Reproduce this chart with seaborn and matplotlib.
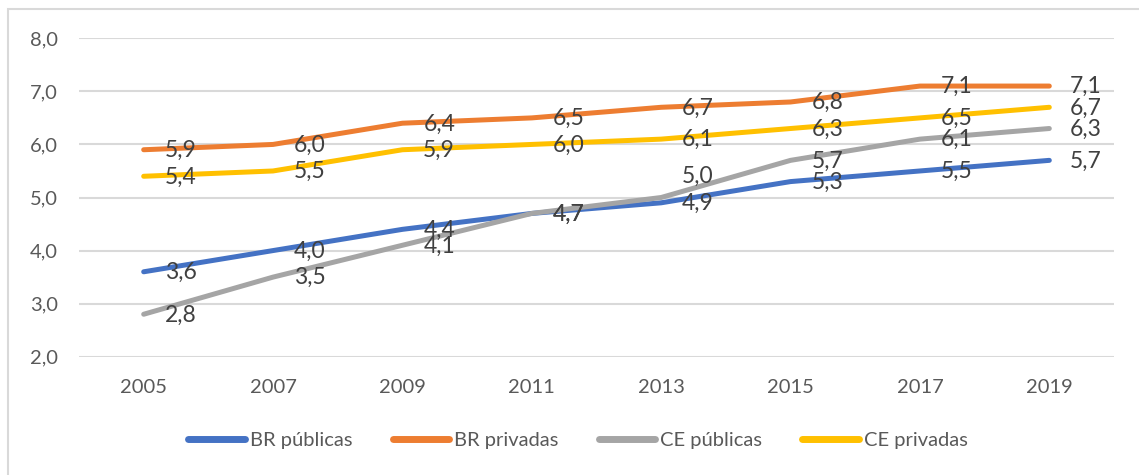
import matplotlib.pyplot as plt
import matplotlib.patches as mpatches
import pandas as pd
import seaborn as sns

# Data
years = ["2005", "2007", "2009", "2011", "2013", "2015", "2017", "2019"]
br_publicas = [3.6, 4.0, 4.4, 4.7, 4.9, 5.3, 5.5, 5.7]
br_privadas = [5.9, 6.0, 6.4, 6.5, 6.7, 6.8, 7.1, 7.1]
ce_publicas = [2.8, 3.5, 4.1, 4.7, 5.0, 5.7, 6.1, 6.3]
ce_privadas = [5.4, 5.5, 5.9, 6.0, 6.1, 6.3, 6.5, 6.7]
series_names = ["BR públicas", "BR privadas", "CE públicas", "CE privadas"]
colors = ["#4472C4", "#ED7D31", "#A5A5A5", "#FFC000"]

sns.set_theme(style="white")
plt.rcParams['font.family'] = ['Lato', 'DejaVu Sans']

rows = []
for name, vals in zip(series_names, [br_publicas, br_privadas, ce_publicas, ce_privadas]):
    for i, v in enumerate(vals):
        rows.append({"pos": i, "year": years[i], "value": v, "serie": name})
df = pd.DataFrame(rows)

fig = plt.figure(figsize=(11.39, 4.75), dpi=100)
ax = fig.add_axes([79 / 1139, 1 - 356.7 / 475, (1114 - 79) / 1139, (356.7 - 38.3) / 475])

sns.lineplot(data=df, x="pos", y="value", hue="serie", hue_order=series_names,
             palette=colors, linewidth=3.6, ax=ax, legend=False,
             solid_capstyle="round", zorder=3)

# labels moved by hand in the original (series, index) -> vertical shift in points
label_shift = {("CE públicas", 4): 16}

# data labels, to the right of each point
for name in series_names:
    sub = df[df["serie"] == name]
    for _, r in sub.iterrows():
        dy = label_shift.get((name, r["pos"]), 0) - 0.5
        ax.annotate(f"{r['value']:.1f}".replace(".", ","), (r["pos"], r["value"]),
                    xytext=(15, dy), textcoords="offset points",
                    ha="left", va="center", fontsize=16.5, color="#404040", zorder=4)

ax.set_xlim(-0.5, 7.5)
ax.set_ylim(2, 8)
ax.set_xticks(range(len(years)))
ax.set_xticklabels(years)
yt = [2, 3, 4, 5, 6, 7, 8]
ax.set_yticks(yt)
ax.set_yticklabels([f"{v:.1f}".replace(".", ",") for v in yt])
ax.tick_params(axis="y", length=0, pad=15, labelsize=14.5, labelcolor="#595959")
ax.tick_params(axis="x", length=0, pad=16, labelsize=14.5, labelcolor="#595959")
ax.grid(axis="y", color="#D9D9D9", linewidth=1.5, zorder=0)
ax.grid(axis="x", visible=False)
for s in ax.spines.values():
    s.set_visible(False)
ax.set_xlabel("")
ax.set_ylabel("")
ax.set_facecolor("none")

handles = [plt.Line2D([], [], color=c, linewidth=5, solid_capstyle="round") for c in colors]
fig.legend(handles, series_names, loc="center", bbox_to_anchor=(578 / 1139, 1 - 440 / 475),
           ncol=4, frameon=False, fontsize=14.5, handlelength=2.8, handletextpad=0.25,
           columnspacing=2.0, labelcolor="#595959")

# outer chart border
fig.patches.append(mpatches.Rectangle((8 / 1139, -0.1), 1.2, 1 - 9 / 475 + 0.1,
                                      transform=fig.transFigure, fill=False,
                                      edgecolor="#D9D9D9", linewidth=1.5))

fig.savefig("out.png", dpi=100)
